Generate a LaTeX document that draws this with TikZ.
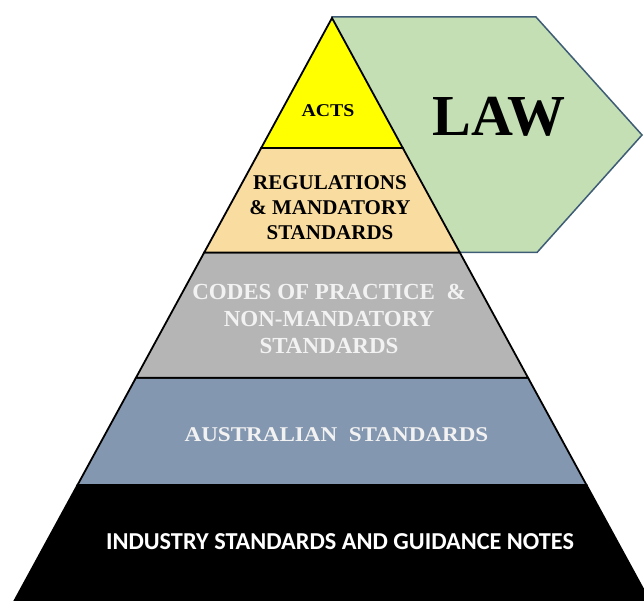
\documentclass[tikz,border=0pt]{standalone}
\usepackage{fontspec}
\setmainfont{Liberation Serif}
\newfontfamily\calib{Carlito}
\usepackage{graphicx}
\definecolor{actsY}{HTML}{FFFF00}
\definecolor{regT}{HTML}{F9DCA0}
\definecolor{codeG}{HTML}{B5B5B5}
\definecolor{ausB}{HTML}{8497B0}
\definecolor{lawG}{HTML}{C4DFB4}
\definecolor{lawE}{HTML}{3E5C76}
\definecolor{softW}{HTML}{F2F2F2}
\tikzset{
  band/.style={draw=black, line width=1.8pt, line join=miter},
  lbl/.style={align=center, inner sep=0pt, font=\bfseries},
}
\begin{document}
\begin{tikzpicture}[x=1pt,y=-1pt]
\useasboundingbox (0,0) rectangle (644,601);
\clip (0,0) rectangle (644,601);
% LAW arrow (behind pyramid)
\draw[fill=lawG, draw=lawE, line width=1.5pt, line join=miter]
  (332,17) -- (536,17) -- (642,135) -- (537,252.5) -- (332,252.5) -- cycle;
% pyramid bands
\draw[band, fill=black] (77.5,485) -- (586.5,485) -- (649.7,601) -- (14.3,601) -- cycle;
\draw[band, fill=ausB] (136,377.7) -- (528,377.7) -- (586.5,485) -- (77.5,485) -- cycle;
\draw[band, fill=codeG] (204.2,252.5) -- (459.8,252.5) -- (528,377.7) -- (136,377.7) -- cycle;
\draw[band, fill=regT] (261.2,148) -- (402.8,148) -- (459.8,252.5) -- (204.2,252.5) -- cycle;
\draw[band, fill=actsY] (332,18) -- (402.8,148) -- (261.2,148) -- cycle;
% labels
\node[lbl, font={\bfseries\fontsize{58}{60}\selectfont}] (law) at (499,117) {LAW};
\node[lbl, font={\bfseries\fontsize{18}{20}\selectfont}] (acts) at (328,111) {\scalebox{1.1}[1]{ACTS}};
\node[lbl, font={\bfseries\fontsize{21}{25}\selectfont}] (regs) at (330,208) {REGULATIONS\\\& MANDATORY\\STANDARDS};
\node[lbl, text=softW, font={\bfseries\fontsize{23}{27}\selectfont}] (codes) at (329,319) {CODES OF PRACTICE\ \ \&\\NON-MANDATORY\\STANDARDS};
\node[lbl, text=softW, font={\bfseries\fontsize{21}{25}\selectfont}] (aus) at (336.5,435) {\scalebox{1.1}[1]{AUSTRALIAN\ \ STANDARDS}};
\node[lbl, text=white, font={\calib\bfseries\fontsize{24.3}{26}\selectfont}] (ind) at (340,542) {INDUSTRY STANDARDS AND GUIDANCE NOTES};
\end{tikzpicture}
\end{document}
